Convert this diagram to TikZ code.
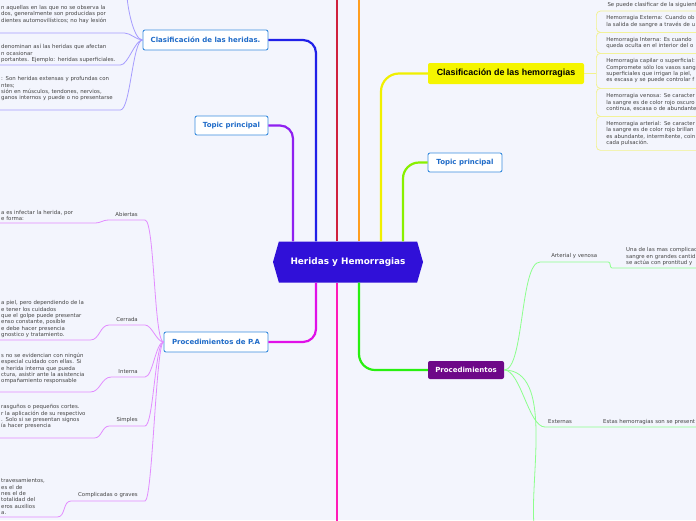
\documentclass[tikz,border=0pt]{standalone}
\usepackage{fontspec}
\setmainfont{DejaVu Sans}
\newfontfamily\arialfont{Liberation Sans}
\usetikzlibrary{shapes.symbols}

\definecolor{bgcol}{HTML}{F3F5FD}
\definecolor{hubcol}{HTML}{3010D8}
\definecolor{topicbd}{HTML}{3A8DDE}
\definecolor{topictx}{HTML}{1F6BC8}
\definecolor{hemcol}{HTML}{F5F500}
\definecolor{proccol}{HTML}{6E0888}
\definecolor{smalltx}{HTML}{454545}
\definecolor{cpurple}{HTML}{8F20F0}
\definecolor{cblue}{HTML}{2020E8}
\definecolor{ccrimson}{HTML}{D0213D}
\definecolor{corange}{HTML}{FF9E1F}
\definecolor{cyellow}{HTML}{F0F000}
\definecolor{clime}{HTML}{88F000}
\definecolor{cmagenta}{HTML}{E010E8}
\definecolor{cpink}{HTML}{FF1AB8}
\definecolor{cgreen}{HTML}{28F010}
\definecolor{herline}{HTML}{A69CFF}
\definecolor{paline}{HTML}{E28CFF}
\definecolor{procline}{HTML}{8CFF8C}
\definecolor{hemline}{HTML}{F2F28C}

\begin{document}
\begin{tikzpicture}[x=1pt,y=-1pt,
  topic/.style={draw=topicbd,fill=white,rounded corners=2pt,line width=0.9pt,text=topictx,
    font=\fontsize{7}{8}\selectfont\bfseries,inner sep=0pt},
  smalltext/.style={font=\fontsize{5.4}{6.4}\selectfont,text=smalltx},
  txt/.style={smalltext,align=left,inner xsep=1pt,inner ysep=2pt,anchor=south west},
  lab/.style={smalltext,inner xsep=7pt,inner ysep=3pt,anchor=south east},
  hbox/.style={smalltext,draw=hemline,line width=0.7pt,rounded corners=4pt,text width=120pt,
    align=left,inner xsep=10pt,anchor=north west},
  br/.style={line width=2.2pt,rounded corners=13pt},
  sub/.style={line width=0.8pt}]

  \fill[bgcol] (0,0) rectangle (696,520);
  \useasboundingbox (0,0) rectangle (696,520);

  % centre and main topics
  \node[signal,signal to=west and east,signal pointer angle=148,fill=hubcol,text=white,
    font=\fontsize{8.9}{10}\selectfont\bfseries,minimum width=150pt,minimum height=41pt,inner sep=0pt]
    (hub) at (348,262) {Heridas y Hemorragias};

  \node[topic,minimum width=125pt,minimum height=20pt] (clsher) at (205.5,40) {Clasificación de las heridas.};
  \node[topic,minimum width=73pt,minimum height=19pt] (tpizq) at (231.5,125.5) {Topic principal};
  \node[topic,minimum width=104pt,minimum height=20pt] (pa) at (216,342) {Procedimientos de P.A};
  \node[topic,minimum width=74pt,minimum height=19pt] (tpder) at (465,162.5) {Topic principal};
  \node[fill=hemcol,rounded corners=2pt,font=\arialfont\fontsize{8.9}{10}\selectfont\bfseries,
    minimum width=156pt,minimum height=21pt,inner sep=0pt] (clshem) at (506,73.5) {Clasificación de las hemorragias};
  \node[fill=proccol,rounded corners=2pt,text=white,font=\fontsize{7}{8}\selectfont\bfseries,
    minimum width=76pt,minimum height=18pt,inner sep=0pt] (proc) at (466,370) {Procedimientos};

  \coordinate (topA) at (337,-5);
  \coordinate (topB) at (359,-5);
  \coordinate (botA) at (337,525);
  \coordinate (herup) at (127,-5);
  \coordinate (procdn) at (534,525);

  \draw[br,draw=cpurple] ([xshift=-55pt]hub.north) |- (tpizq.east);
  \draw[br,draw=cblue] ([xshift=-32pt]hub.north) |- (clsher.east);
  \draw[br,draw=ccrimson] ([xshift=-11pt]hub.north) -- (topA);
  \draw[br,draw=corange] ([xshift=11pt]hub.north) -- (topB);
  \draw[br,draw=cyellow,rounded corners=18pt] ([xshift=33pt]hub.north) |- (clshem.west);
  \draw[br,draw=clime,rounded corners=16pt] ([xshift=55pt]hub.north) |- (tpder.west);
  \draw[br,draw=cmagenta] ([xshift=-32pt]hub.south) |- (pa.east);
  \draw[br,draw=cpink] ([xshift=-11pt]hub.south) -- (botA);
  \draw[br,draw=cgreen,rounded corners=16pt] ([xshift=11pt]hub.south) |- (proc.west);

  % heridas
  \node[txt,text width=122pt,text depth=21.3pt] (her1) at (0,33)
    {n aquellas en las que no se observa la\\dos, generalmente son producidas por\\dientes automovilísticos; no hay lesión};
  \node[txt,text width=118pt] (her2) at (0,65)
    {denominan así las heridas que afectan\\n ocasionar\\portantes. Ejemplo: heridas superficiales.};
  \node[txt,text width=118pt,text depth=27.2pt] (her3) at (0,110)
    {: Son heridas extensas y profundas con\\ntes;\\sión en músculos, tendones, nervios,\\ganos internos y puede o no presentarse};

  \draw[sub,draw=herline] (clsher.west) to[out=180,in=-90,looseness=0.5] (herup);
  \draw[sub,draw=herline] (clsher.west) to[out=180,in=0,looseness=0.8] (her1.south east) -- (her1.south west);
  \draw[sub,draw=herline] (clsher.west) to[out=180,in=0,looseness=0.6] (her2.south east) -- (her2.south west);
  \draw[sub,draw=herline] (clsher.west) to[out=180,in=0,looseness=0.35] (her3.south east) -- (her3.south west);

  % procedimientos de P.A
  \node[lab] (abi) at (145,220) {Abiertas};
  \node[lab] (cer) at (145,325) {Cerrada};
  \node[lab] (int) at (145,377) {Interna};
  \node[lab] (sim) at (145,426) {Simples};
  \node[lab] (com) at (145,501) {Complicadas o graves};

  \node[txt,text width=93pt] (abitx) at (0,223) {a es infectar la herida, por\\e forma:};
  \node[txt,text width=88pt] (certx) at (0,340)
    {a piel, pero dependiendo de la\\e tener los cuidados\\que el golpe puede presentar\\enso constante, posible\\e debe hacer presencia\\gnostico y tratamiento.};
  \node[txt,text width=88pt,text depth=32.6pt] (inttx) at (0,392)
    {s no se evidencian con ningún\\especial cuidado con ellas. Si\\e herida interna que pueda\\ctura, asistir ante la asistencia\\ompañamiento responsable};
  \node[txt,text width=92pt,text depth=27.2pt] (simtx) at (0,438)
    {rasguños o pequeños cortes.\\r la aplicación de su respectivo\\. Solo si se presentan signos\\ía hacer presencia};
  \node[txt,text width=55pt] (comtx) at (0,517)
    {travesamientos,\\es el de\\nes el de\\totalidad del\\eros auxilios\\a.};

  \draw[sub,draw=paline] (pa.west) to[out=180,in=0,looseness=0.2] (abi.south east) -- (abi.south west)
    to[out=180,in=0] (abitx.south east) -- (abitx.south west);
  \draw[sub,draw=paline] (pa.west) to[out=180,in=0,looseness=0.7] (cer.south east) -- (cer.south west)
    to[out=180,in=0] (certx.south east) -- (certx.south west);
  \draw[sub,draw=paline] (pa.west) to[out=180,in=0,looseness=0.5] (int.south east) -- (int.south west)
    to[out=180,in=0] (inttx.south east) -- (inttx.south west);
  \draw[sub,draw=paline] (pa.west) to[out=180,in=0,looseness=0.25] (sim.south east) -- (sim.south west)
    to[out=180,in=0] (simtx.south east) -- (simtx.south west);
  \draw[sub,draw=paline] (pa.west) to[out=180,in=0,looseness=0.12] (com.south east) -- (com.south west)
    to[out=180,in=0] (comtx.south east) -- (comtx.south west);

  % clasificacion de las hemorragias
  \node[smalltext,anchor=west] (hb0) at (604,5) {Se puede clasificar de la siguient};
  \node[hbox,minimum height=21.3pt] (hb1) at (596,10.7)
    {Hemorragia Externa: Cuando ob\\la salida de sangre a través de u};
  \node[hbox,minimum height=21pt] (hb2) at (596,32)
    {Hemorragia Interna: Es cuando\\queda oculta en el interior del o};
  \node[hbox,minimum height=35pt] (hb3) at (596,53)
    {Hemorragia capilar o superficial:\\Compromete sólo los vasos sang\\superficiales que irrigan la piel,\\es escasa y se puede controlar f};
  \node[hbox,minimum height=28pt] (hb4) at (596,88)
    {Hemorragia venosa: Se caracter\\la sangre es de color rojo oscuro\\continua, escasa o de abundante};
  \node[hbox,minimum height=34pt] (hb5) at (596,116)
    {Hemorragia arterial: Se caracter\\la sangre es de color rojo brillan\\es abundante, intermitente, coin\\cada pulsación.};

  \draw[sub,draw=hemline] (clshem.east) -- (clshem.east -| hb3.west);

  % procedimientos
  \node[lab,anchor=south west,minimum width=68pt] (art) at (540,262) {Arterial y venosa};
  \node[txt,text width=100pt,inner xsep=0pt] (arttx) at (626,268)
    {Una de las mas complicac\\sangre en grandes cantid\\se actúa con prontitud y};
  \node[lab,anchor=south west,inner xsep=3pt] (ext) at (545,427) {Externas};
  \node[txt,text width=100pt,inner xsep=0pt] (exttx) at (603,427) {Estas hemorragias son se present};

  \draw[sub,draw=procline] (proc.east) to[out=0,in=180,looseness=0.45] (art.south west) -- (art.south east)
    to[out=0,in=180] ([xshift=-14pt]arttx.south west) -- (arttx.south east);
  \draw[sub,draw=procline] (proc.east) to[out=0,in=180,looseness=0.6] (ext.south west) -- (exttx.south east);
  \draw[sub,draw=procline] (proc.east) to[out=0,in=95,looseness=0.8] (procdn);

\end{tikzpicture}
\end{document}
